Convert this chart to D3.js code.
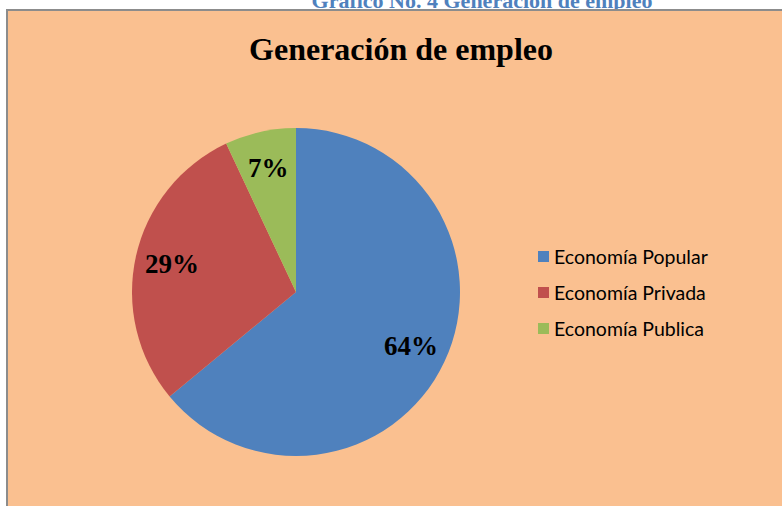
<!DOCTYPE html>
<html>
<head>
<meta charset="utf-8">
<script src="https://cdn.jsdelivr.net/npm/d3@7"></script>
<style>
  body { margin: 0; background: #fff; }
  svg { display: block; }
</style>
</head>
<body>
<div id="chart"></div>
<script>

// data
var categories = ["Economía Popular", "Economía Privada", "Economía Publica"];
var values = [64, 29, 7];
var colors = ["#4f81bd", "#c0504d", "#9bbb59"];

var width = 782, height = 506;

var svg = d3.select("#chart").append("svg")
    .attr("width", width)
    .attr("height", height);

// document heading, cut off at top like in the scan
svg.append("text")
    .attr("x", 482)
    .attr("y", 7.5)
    .attr("text-anchor", "middle")
    .attr("font-family", "Liberation Serif, Times New Roman, serif")
    .attr("font-weight", "bold")
    .attr("font-size", 22)
    .attr("fill", "#4f81bd")
    .text("Gráfico No. 4 Generación de empleo");

// chart area
svg.append("rect")
    .attr("x", 7)
    .attr("y", 10)
    .attr("width", 800)
    .attr("height", 520)
    .attr("fill", "#fac090")
    .attr("stroke", "#8c8c8c")
    .attr("stroke-width", 2);

svg.append("text")
    .attr("x", 401)
    .attr("y", 60)
    .attr("text-anchor", "middle")
    .attr("font-family", "Liberation Serif, Times New Roman, serif")
    .attr("font-weight", "bold")
    .attr("font-size", 32)
    .attr("fill", "#000")
    .text("Generación de empleo");

// pie
var cx = 296, cy = 292, radius = 164;

var pie = d3.pie().sort(null).value(function (d) { return d; });
var arc = d3.arc().innerRadius(0).outerRadius(radius);
var labelArc = d3.arc().innerRadius(254 - radius).outerRadius(radius);

var g = svg.append("g").attr("transform", "translate(" + cx + "," + cy + ")");

var slices = pie(values);

g.selectAll("path")
    .data(slices)
    .enter().append("path")
    .attr("d", arc)
    .attr("fill", function (d, i) { return colors[i]; });

g.selectAll("text")
    .data(slices)
    .enter().append("text")
    .attr("transform", function (d) { return "translate(" + labelArc.centroid(d) + ")"; })
    .attr("text-anchor", "middle")
    .attr("dy", "0.33em")
    .attr("font-family", "Liberation Serif, Times New Roman, serif")
    .attr("font-weight", "bold")
    .attr("font-size", 27)
    .attr("fill", "#000")
    .text(function (d) { return d.data + "%"; });

// legend
var legendY = d3.scalePoint().domain(categories).range([257, 329]);

var legend = svg.append("g")
    .selectAll("g")
    .data(categories)
    .enter().append("g")
    .attr("transform", function (d) { return "translate(538," + legendY(d) + ")"; });

legend.append("rect")
    .attr("x", 0)
    .attr("y", -6)
    .attr("width", 11)
    .attr("height", 11)
    .attr("fill", function (d, i) { return colors[i]; });

legend.append("text")
    .attr("x", 16)
    .attr("y", 0)
    .attr("dy", "0.35em")
    .attr("font-family", "Lato, Open Sans, sans-serif")
    .attr("font-size", 19.5)
    .attr("fill", "#000")
    .text(function (d) { return d; });

</script>
</body>
</html>
